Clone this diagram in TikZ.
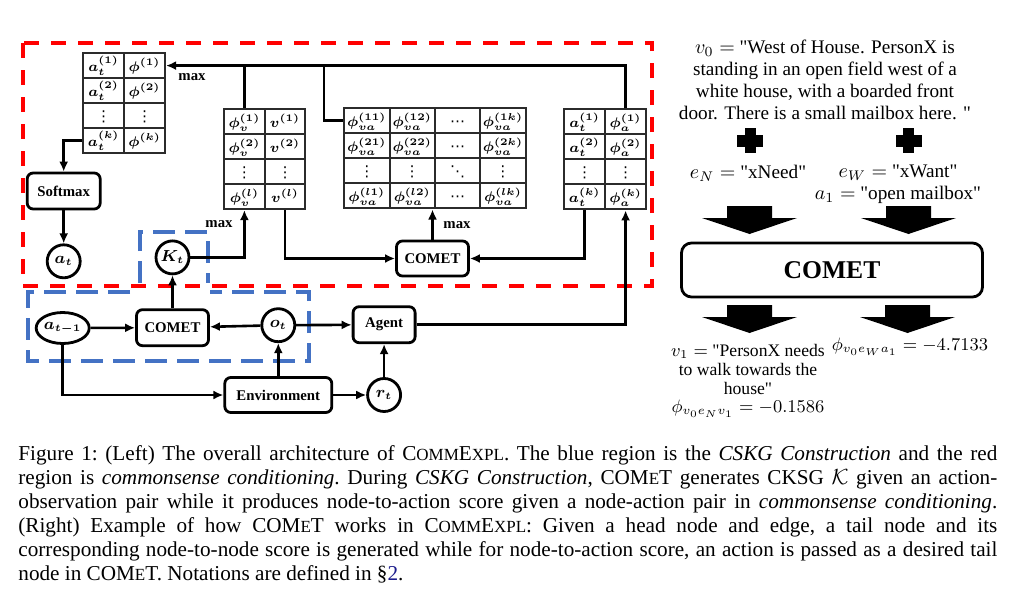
\documentclass[tikz,border=0pt]{standalone}
\usepackage{amsmath}
\usepackage{bm}
\usepackage{fontspec}
\setmainfont{Liberation Serif}
\newfontfamily\dotsfont{DejaVu Sans}
\usepackage{tikz}
\usetikzlibrary{arrows.meta,positioning,matrix,shapes.geometric}
\usepackage{xcolor}
\definecolor{zonered}{HTML}{FF0000}
\definecolor{zoneblue}{HTML}{4472C4}
\definecolor{cellgrid}{HTML}{2B2B2B}
\definecolor{refblue}{HTML}{1C1C8C}
\newcommand{\minicaps}[1]{{\fontsize{8.5}{12}\selectfont #1}}
\newcommand{\dq}{\textquotedbl}
\newcommand{\celldots}[1]{\hbox{\dotsfont\fontsize{7.5}{8}\selectfont #1}}
\tikzset{
  procbox/.style={
    rounded corners=3pt,
    draw=black,
    fill=white,
    line width=1.4pt,
    minimum width=36pt,
    minimum height=17.5pt,
    inner sep=1pt,
    font=\fontsize{7.4}{8}\selectfont\bfseries
  },
  statenode/.style={
    circle,
    draw=black,
    fill=white,
    line width=1.4pt,
    minimum size=16.5pt,
    inner sep=0pt,
    font=\fontsize{7.8}{9}\selectfont\boldmath
  },
  tabcell/.style={
    draw=cellgrid,
    line width=1pt,
    minimum width=20.5pt,
    minimum height=12.5pt,
    text height=8.2pt,
    text depth=2.6pt,
    inner sep=0pt,
    font=\fontsize{7.4}{8}\selectfont\boldmath
  },
  scoretable/.style={
    matrix of math nodes,
    nodes={tabcell},
    column sep=-1pt,
    row sep=-1pt,
    inner sep=0pt,
    anchor=north west
  },
  flow/.style={
    -{Latex[length=5pt,width=4.5pt]},
    line width=1.3pt
  },
  link/.style={line width=1.3pt},
  maxlabel/.style={font=\fontsize{7.4}{8}\selectfont\bfseries, inner sep=0pt},
  redzone/.style={draw=zonered, line width=1.6pt, dash pattern=on 7.5pt off 6pt},
  bluezone/.style={draw=zoneblue, line width=1.6pt, dash pattern=on 11pt off 5pt},
  exampletext/.style={font=\fontsize{9.6}{11}\selectfont, align=center, inner sep=0pt}
}

\begin{document}
\begin{tikzpicture}[node distance=16.5pt, x=0.5pt, y=-0.5pt]
\useasboundingbox (0,0) rectangle (1014,600);

\draw[redzone] (23,43) rectangle (652,286);
\draw[bluezone] (140,283) -- (140,232) -- (208,232) -- (208,283);
\draw[bluezone] (130,292) -- (28,292) -- (28,361) -- (309,361) -- (309,292) -- (210,292);

\matrix[scoretable] (acttab) at (81.7,51.7) {
a_t^{(1)} & \phi^{(1)} \\
a_t^{(2)} & \phi^{(2)} \\
\celldots{⋮} & \celldots{⋮} \\
a_t^{(k)} & \phi^{(k)} \\
};
\matrix[scoretable, nodes={minimum width=20.3pt}] (nodetab) at (222.7,107.7) {
\phi_v^{(1)} & v^{(1)} \\
\phi_v^{(2)} & v^{(2)} \\
\celldots{⋮} & \celldots{⋮} \\
\phi_v^{(l)} & v^{(l)} \\
};
\matrix[scoretable, nodes={minimum width=22.7pt}] (pairtab) at (342.7,106.7) {
\phi_{va}^{(11)} & \phi_{va}^{(12)} & \celldots{⋯} & \phi_{va}^{(1k)} \\
\phi_{va}^{(21)} & \phi_{va}^{(22)} & \celldots{⋯} & \phi_{va}^{(2k)} \\
\celldots{⋮} & \celldots{⋮} & \celldots{⋱} & \celldots{⋮} \\
\phi_{va}^{(l1)} & \phi_{va}^{(l2)} & \celldots{⋯} & \phi_{va}^{(lk)} \\
};
\matrix[scoretable] (scoretab) at (562.7,108) {
a_t^{(1)} & \phi_a^{(1)} \\
a_t^{(2)} & \phi_a^{(2)} \\
\celldots{⋮} & \celldots{⋮} \\
a_t^{(k)} & \phi_a^{(k)} \\
};

\node[procbox, minimum width=36.5pt, minimum height=18pt] (softmax) at (63.7,191) {Softmax};
\node[statenode, below=of softmax] (at) {$a_t$};
\node[procbox] (cometup) at (432.5,258.5) {COMET};
\node[procbox, minimum height=18pt] (cometlow) at (172.5,327.7) {COMET};
\node[statenode, above=of cometlow] (kt) {$K_t$};
\node[statenode, ellipse, minimum width=22.5pt, minimum height=15.5pt] (atm1) at (62.7,328) {$a_{t-1}$};
\node[procbox, minimum width=53.5pt] (env) at (278.3,395) {Environment};
\node[statenode, above=of env] (ot) {$o_t$};
\node[statenode, right=of env] (rt) {$r_t$};
\node[procbox, minimum width=31pt, minimum height=18pt, above=of rt] (agent) {Agent};

\node[maxlabel] (maxtop) at (192,77) {max};
\node[maxlabel] (maxleft) at (219,224) {max};
\node[maxlabel] (maxpair) at (457,225) {max};

\coordinate (pairjoin) at (324,0);
\draw[flow] (scoretab-1-2.north) |- (acttab-1-2.east);
\draw[link] (nodetab-1-1.north) -- (nodetab-1-1.north |- acttab-1-2.east);
\draw[link] (pairtab-1-1.west) -| (pairjoin |- acttab-1-2.east);
\draw[flow] (acttab-4-1.west) -| (softmax.north);
\draw[flow] (softmax) -- (at);
\draw[flow] (kt) -| (nodetab-4-1.south);
\draw[flow] (nodetab-4-2.south) |- (cometup);
\draw[flow] (scoretab-4-1.south) |- (cometup);
\draw[flow] (cometup) -- (cometup |- pairtab.south);
\draw[flow] (atm1) -- (cometlow);
\draw[flow] (ot) -- (cometlow);
\draw[flow] (cometlow) -- (kt);
\draw[flow] (ot) -- (agent);
\draw[flow] (env) -- (ot);
\draw[flow] (atm1) |- (env);
\draw[flow] (env) -- (rt);
\draw[flow] (rt) -- (agent);
\draw[flow] (agent) -| (scoretab-4-2.south);

\node[exampletext] (headtext) at (825,80) {$v_0 =$ \dq West of House. PersonX is\\standing in an open field west of a\\white house, with a boarded front\\door. There is a small mailbox here. \dq};
\foreach \px in {750,908.5} {
  \fill (\px-5.5,128) rectangle (\px+5.5,153);
  \fill (\px-13,134.5) rectangle (\px+13,146.5);
}
\node[exampletext] (needrel) at (748,173) {$e_N =$ \dq xNeed\dq};
\node[exampletext] (wantrel) at (898,184) {$e_W =$ \dq xWant\dq\\$a_1 =$ \dq open mailbox\dq};
\foreach \px/\py in {749.5/206, 908.5/206, 749.5/305, 907.5/305} {
  \fill (\px-22.5,\py) -- (\px+22.5,\py) -- (\px+22.5,\py+12) -- (\px+47.5,\py+12)
    -- (\px,\py+28) -- (\px-47.5,\py+12) -- (\px-22.5,\py+12) -- cycle;
}
\node[procbox, minimum width=150.5pt, minimum height=27pt, rounded corners=5pt, font=\fontsize{12.8}{14}\selectfont\bfseries] (cometbig) at (832,270) {COMET};
\node[exampletext, font=\fontsize{8.8}{9.4}\selectfont] (tailtext) at (748,381) {$v_1 =$ \dq PersonX needs\\to walk towards the\\house\dq\\$\phi_{v_0e_Nv_1} = -0.1586$};
\node[exampletext, font=\fontsize{8.8}{9.4}\selectfont] (actscore) at (910,347) {$\phi_{v_0e_Wa_1} = -4.7133$};

\node[anchor=north west, inner sep=0pt, align=left, font=\fontsize{10.6}{12}\selectfont\frenchspacing] (caption) at (18,445) {%
\makebox[489.5pt][s]{Figure 1: (Left) The overall architecture of C\minicaps{OMM}E\minicaps{XPL}. The blue region is the \textit{CSKG Construction} and the red}\\
\makebox[489.5pt][s]{region is \textit{commonsense conditioning}. During \textit{CSKG Construction}, COM\minicaps{E}T generates CKSG $\mathcal{K}$ given an action-}\\
\makebox[489.5pt][s]{observation pair while it produces node-to-action score given a node-action pair in \textit{commonsense conditioning}.}\\
\makebox[489.5pt][s]{(Right) Example of how COM\minicaps{E}T works in C\minicaps{OMM}E\minicaps{XPL}: Given a head node and edge, a tail node and its}\\
\makebox[489.5pt][s]{corresponding node-to-node score is generated while for node-to-action score, an action is passed as a desired tail}\\
node in COM\minicaps{E}T. Notations are defined in \S\textcolor{refblue}{2}.};
\end{tikzpicture}
\end{document}
